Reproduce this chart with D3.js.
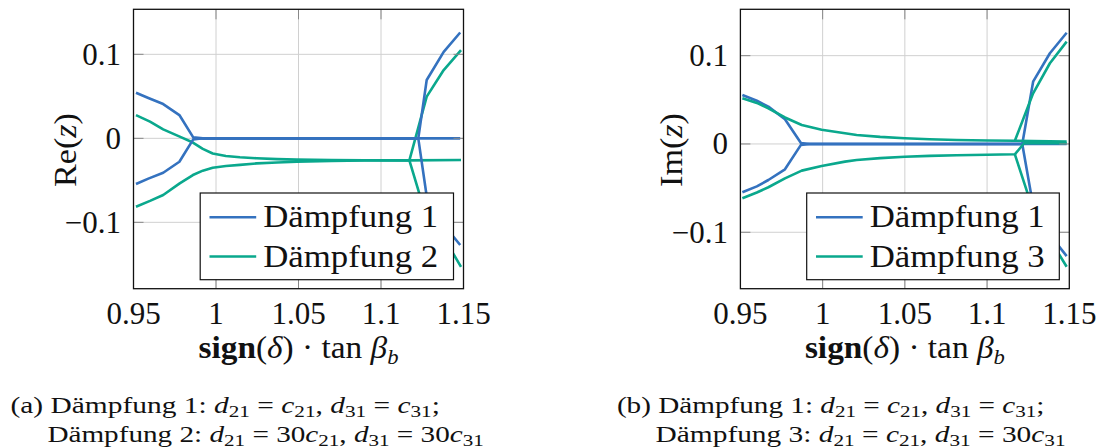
<!DOCTYPE html>
<html><head><meta charset="utf-8">
<script src="https://cdn.jsdelivr.net/npm/d3@7"></script>
<style>body{margin:0;background:#fff}svg{display:block}</style>
</head><body>
<svg id="c" width="1102" height="448"></svg>
<script>
// ---------- data ----------
const xDomain = [0.95, 1.15];
const reYDomain = [-0.179, 0.1536];
const imYDomain = [-0.1639, 0.1525];
const xTicks = [0.95, 1, 1.05, 1.1, 1.15];
const xTickLabels = ["0.95", "1", "1.05", "1.1", "1.15"];
const yTicks = [-0.1, 0, 0.1];
const yTickLabels = ["\u22120.1", "0", "0.1"];

// Re(z), Dämpfung 1 (blue)
const reB1x = [0.9515, 0.959, 0.968, 0.9778, 0.9862, 0.992, 1.1226, 1.1277, 1.138, 1.148];
const reB1y = [0.0543, 0.048, 0.0408, 0.0277, 0.0012, 0, 0, 0.0694, 0.103, 0.126];
const reB2x = [0.9515, 0.959, 0.968, 0.9778, 0.9862, 0.992, 1.1226, 1.1277, 1.138, 1.148];
const reB2y = [-0.0544, -0.048, -0.041, -0.0279, -0.0012, 0, 0, -0.069, -0.103, -0.127];
const reB3x = [0.9862, 1.148];
const reB3y = [0, 0];
// Re(z), Dämpfung 2 (green)
const reG1x = [0.9515, 0.96, 0.968, 0.978, 0.986, 0.992, 0.998, 1.006, 1.0145, 1.0247, 1.037, 1.049, 1.07, 1.09, 1.1172, 1.1277, 1.138, 1.1485];
const reG1y = [0.0277, 0.0198, 0.0107, 0.002, -0.005, -0.0125, -0.018, -0.021, -0.0226, -0.0238, -0.0248, -0.0254, -0.0259, -0.0261, -0.0262, 0.0496, 0.0813, 0.105];
const reG2x = [0.9515, 0.96, 0.968, 0.978, 0.986, 0.992, 0.998, 1.006, 1.0145, 1.0247, 1.037, 1.049, 1.07, 1.09, 1.1172, 1.1485];
const reG2y = [-0.0814, -0.0745, -0.0675, -0.0536, -0.0437, -0.0385, -0.035, -0.033, -0.0316, -0.0298, -0.0287, -0.0278, -0.0268, -0.0264, -0.0262, -0.0258];
const reG3x = [1.1172, 1.1277, 1.138, 1.1485];
const reG3y = [-0.0262, -0.095, -0.118, -0.153];

// Im(z), Dämpfung 1 (blue)
const imB1x = [0.9512, 0.96, 0.967, 0.9771, 0.9868, 0.992, 1.1214, 1.128, 1.1382, 1.1484];
const imB1y = [0.0555, 0.049, 0.0423, 0.028, 0.001, 0, 0, 0.0705, 0.1027, 0.126];
const imB2x = [0.9512, 0.96, 0.967, 0.9771, 0.9868, 0.992, 1.1214, 1.128, 1.1382, 1.1484];
const imB2y = [-0.0547, -0.048, -0.0408, -0.0287, -0.001, 0, 0, -0.07, -0.103, -0.127];
const imB3x = [0.9868, 1.1484];
const imB3y = [0, 0];
// Im(z), Dämpfung 3 (green)
const imG1x = [0.9512, 0.96, 0.967, 0.9771, 0.9873, 0.9994, 1.0136, 1.0207, 1.035, 1.05, 1.065, 1.0815, 1.1, 1.1169, 1.128, 1.1382, 1.1484];
const imG1y = [0.0518, 0.0465, 0.0404, 0.030, 0.0215, 0.0162, 0.0121, 0.0102, 0.008, 0.0064, 0.0053, 0.0045, 0.004, 0.0037, 0.0574, 0.0914, 0.1159];
const imG2x = [1.1169, 1.1484];
const imG2y = [0.0037, 0.0026];
const imG3x = [0.9512, 0.96, 0.967, 0.9771, 0.9873, 0.9994, 1.0136, 1.0207, 1.035, 1.05, 1.065, 1.0815, 1.1, 1.1169, 1.1225, 1.1484];
const imG3y = [-0.0615, -0.055, -0.049, -0.0389, -0.0302, -0.0249, -0.02, -0.0181, -0.016, -0.0144, -0.0135, -0.0128, -0.0122, -0.0117, 0.0008, 0.0008];
const imG4x = [1.1169, 1.128, 1.1382, 1.1484];
const imG4y = [-0.0117, -0.075, -0.108, -0.139];

const legendLeft = ["Dämpfung 1", "Dämpfung 2"];
const legendRight = ["Dämpfung 1", "Dämpfung 3"];

// ---------- styling / layout ----------
const BLUE = "#3472bf", GREEN = "#0aa88d";
const FONT = "'Liberation Serif', 'Times New Roman', serif";
const svg = d3.select("#c");

function zip(xs, ys) { return xs.map((x, i) => [x, ys[i]]); }

function fitText(g, targetW) {
  const w = g.node().getBBox().width;
  return w > 0 ? targetW / w : 1;
}

function panel(cfg) {
  const x = d3.scaleLinear().domain(xDomain).range([cfg.x0, cfg.x1]);
  const y = d3.scaleLinear().domain(cfg.yDomain).range([cfg.yBot, cfg.yTop]);
  const g = svg.append("g");
  const L = cfg.x0, R = cfg.x1, T = cfg.yTop, B = cfg.yBot;

  // grid
  g.append("g").selectAll("line").data(xTicks.slice(1, -1)).join("line")
    .attr("x1", d => x(d)).attr("x2", d => x(d)).attr("y1", T).attr("y2", B)
    .attr("stroke", "#d0d0d0").attr("stroke-width", 1);
  g.append("g").selectAll("line").data(yTicks).join("line")
    .attr("x1", L).attr("x2", R).attr("y1", d => y(d)).attr("y2", d => y(d))
    .attr("stroke", "#d0d0d0").attr("stroke-width", 1);

  // curves
  const line = d3.line().x(d => x(d[0])).y(d => y(d[1]));
  const clipId = "clip" + cfg.id;
  g.append("clipPath").attr("id", clipId).append("rect")
    .attr("x", L).attr("y", T).attr("width", R - L).attr("height", B - T);
  const cg = g.append("g").attr("clip-path", `url(#${clipId})`);
  cfg.series.forEach(s => {
    cg.append("path").attr("d", line(zip(s.x, s.y))).attr("fill", "none")
      .attr("stroke", s.color).attr("stroke-width", 2.6).attr("stroke-linejoin", "round");
  });

  // ticks (inside, all sides)
  const tl = 10;
  xTicks.slice(1, -1).forEach(t => {
    g.append("line").attr("x1", x(t)).attr("x2", x(t)).attr("y1", B).attr("y2", B - tl).attr("stroke", "#888");
    g.append("line").attr("x1", x(t)).attr("x2", x(t)).attr("y1", T).attr("y2", T + tl).attr("stroke", "#888");
  });
  yTicks.forEach(t => {
    g.append("line").attr("x1", L).attr("x2", L + tl).attr("y1", y(t)).attr("y2", y(t)).attr("stroke", "#888");
    g.append("line").attr("x1", R).attr("x2", R - tl).attr("y1", y(t)).attr("y2", y(t)).attr("stroke", "#888");
  });

  // frame
  g.append("rect").attr("x", L).attr("y", T).attr("width", R - L).attr("height", B - T)
    .attr("fill", "none").attr("stroke", "#111").attr("stroke-width", 1.3);

  // tick labels
  g.append("g").selectAll("text").data(xTicks).join("text")
    .attr("x", d => x(d)).attr("y", 323.5).attr("text-anchor", "middle")
    .attr("font-family", FONT).attr("font-size", 31).attr("fill", "#111")
    .text((d, i) => xTickLabels[i]);
  g.append("g").selectAll("text").data(yTicks).join("text")
    .attr("x", L - 12.5).attr("y", d => y(d) + 10.5).attr("text-anchor", "end")
    .attr("font-family", FONT).attr("font-size", 31).attr("fill", "#111")
    .text((d, i) => yTickLabels[i]);

  // x axis label
  const cx = (L + R) / 2;
  const xl = g.append("g");
  const xt = xl.append("text").attr("font-family", FONT).attr("font-size", 31).attr("fill", "#111").attr("text-anchor", "middle");
  xt.append("tspan").attr("font-weight", "bold").text("sign");
  xt.append("tspan").text("(");
  xt.append("tspan").attr("font-style", "italic").text("δ");
  xt.append("tspan").text(") · tan ");
  xt.append("tspan").attr("font-style", "italic").text("β");
  xt.append("tspan").attr("font-style", "italic").attr("font-size", 21).attr("dy", 6).text("b");
  const sx = fitText(xl, 200);
  xl.attr("transform", `translate(${cx},357.5) scale(${sx},1)`);

  // y axis label
  const yl = g.append("g");
  const yt = yl.append("text").attr("font-family", FONT).attr("font-size", 31).attr("fill", "#111").attr("text-anchor", "middle");
  yt.append("tspan").text(cfg.yName + "(");
  yt.append("tspan").attr("font-style", "italic").text("z");
  yt.append("tspan").text(")");
  const sy = fitText(yl, 74);
  yl.attr("transform", `translate(${cfg.yLabelX},150) rotate(-90) scale(${sy},1)`);

  // legend
  const lg = g.append("g");
  const lx0 = R - 10 - cfg.legW, ly0 = B - 9 - 86.7;
  lg.append("rect").attr("x", lx0).attr("y", ly0).attr("width", cfg.legW).attr("height", 86.7)
    .attr("fill", "#fff").attr("stroke", "#111").attr("stroke-width", 1.2);
  cfg.legend.forEach((name, i) => {
    const yy = ly0 + 24.2 + i * 39.3;
    lg.append("line").attr("x1", lx0 + 9.3).attr("x2", lx0 + 56).attr("y1", yy).attr("y2", yy)
      .attr("stroke", i === 0 ? BLUE : GREEN).attr("stroke-width", 2.6);
    const tg = lg.append("g");
    tg.append("text").attr("font-family", FONT).attr("font-size", 31).attr("fill", "#111").text(name);
    const s = fitText(tg, 175);
    tg.attr("transform", `translate(${lx0 + 63},${yy + 10}) scale(${s},1)`);
  });
  return g;
}

panel({
  id: "L", x0: 133.5, x1: 463.5, yTop: 9.3, yBot: 288.7, yDomain: reYDomain, yName: "Re", yLabelX: 76,
  legend: legendLeft, legW: 253.3,
  series: [
    { x: reG1x, y: reG1y, color: GREEN }, { x: reG2x, y: reG2y, color: GREEN }, { x: reG3x, y: reG3y, color: GREEN },
    { x: reB3x, y: reB3y, color: BLUE }, { x: reB1x, y: reB1y, color: BLUE }, { x: reB2x, y: reB2y, color: BLUE }
  ]
});
panel({
  id: "R", x0: 740.4, x1: 1069.3, yTop: 9.3, yBot: 288.7, yDomain: imYDomain, yName: "Im", yLabelX: 682,
  legend: legendRight, legW: 252.6,
  series: [
    { x: imB3x, y: imB3y, color: BLUE }, { x: imB1x, y: imB1y, color: BLUE }, { x: imB2x, y: imB2y, color: BLUE },
    { x: imG1x, y: imG1y, color: GREEN }, { x: imG2x, y: imG2y, color: GREEN }, { x: imG3x, y: imG3y, color: GREEN }, { x: imG4x, y: imG4y, color: GREEN }
  ]
});

// ---------- captions ----------
function caption(line1Start, line2Start, w1, w2, tag, name, parts2) {
  const fs = 23, sh = 4;
  function rich(parent, parts) {
    const t = parent.append("text").attr("font-family", FONT).attr("font-size", fs).attr("fill", "#111");
    let shifted = false;
    parts.forEach(p => {
      const ts = t.append("tspan").text(p[0]);
      if (p[1] === "i") ts.attr("font-style", "italic");
      if (p[1] === "sub") { ts.attr("font-size", fs * 0.72).attr("dy", shifted ? 0 : sh); shifted = true; }
      else if (shifted) { ts.attr("dy", -sh); shifted = false; }
    });
    return t;
  }
  const eq1 = [["d", "i"], ["21", "sub"], [" = "], ["c", "i"], ["21", "sub"], [", "], ["d", "i"], ["31", "sub"], [" = "], ["c", "i"], ["31", "sub"], [";"]];
  const g1 = svg.append("g");
  rich(g1, [[tag + " " + "Dämpfung 1: "]].concat(eq1));
  const s1 = fitText(g1, w1);
  g1.attr("transform", `translate(${line1Start},413) scale(${s1},1)`);
  const g2 = svg.append("g");
  rich(g2, [[name + ": "]].concat(parts2));
  const s2 = fitText(g2, w2);
  g2.attr("transform", `translate(${line2Start},441.5) scale(${s2},1)`);
}
caption(10.5, 47.4, 429.5, 436.6, "(a)", "Dämpfung 2",
  [["d", "i"], ["21", "sub"], [" = 30"], ["c", "i"], ["21", "sub"], [", "], ["d", "i"], ["31", "sub"], [" = 30"], ["c", "i"], ["31", "sub"]]);
caption(616.9, 655.6, 427.6, 410.1, "(b)", "Dämpfung 3",
  [["d", "i"], ["21", "sub"], [" = "], ["c", "i"], ["21", "sub"], [", "], ["d", "i"], ["31", "sub"], [" = 30"], ["c", "i"], ["31", "sub"]]);
</script>
</body></html>
